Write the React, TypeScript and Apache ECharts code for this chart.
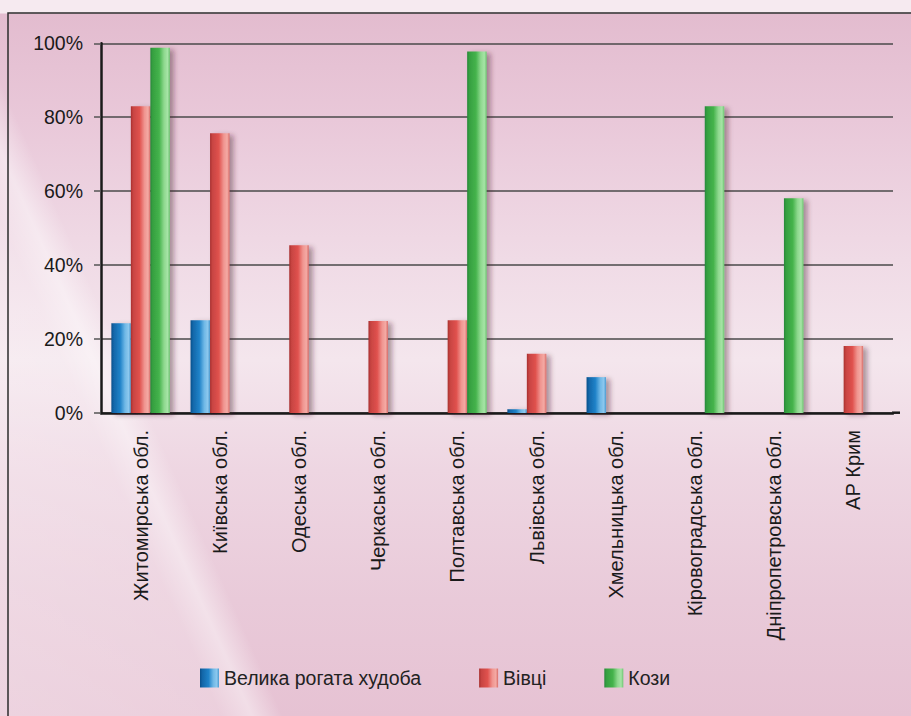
import React, { useEffect, useRef } from "react";
import * as echarts from "echarts";

const categories = [
  "Житомирська обл.",
  "Київська обл.",
  "Одеська обл.",
  "Черкаська обл.",
  "Полтавська обл.",
  "Львівська обл.",
  "Хмельницька обл.",
  "Кіровоградська обл.",
  "Дніпропетровська обл.",
  "АР Крим",
];
const seriesNames = ["Велика рогата худоба", "Вівці", "Кози"];
const cattle = [24.3, 25.1, null, null, null, 1, 9.7, null, null, null];
const sheep = [83, 75.7, 45.4, 24.9, 25.1, 16, null, null, null, 18.1];
const goats = [98.8, null, null, null, 97.8, null, null, 83, 58.1, null];

function cyl(stops: string[]) {
  const pos = [0, 0.12, 0.45, 0.7, 0.88, 1];
  return new echarts.graphic.LinearGradient(
    0,
    0,
    1,
    0,
    stops.map((c, i) => ({ offset: pos[i], color: c }))
  );
}

export default function App() {
  const ref = useRef<HTMLDivElement>(null);
  useEffect(() => {
    if (!ref.current) return;
    const chart = echarts.init(ref.current, undefined, { renderer: "svg" });
    const font = "'Liberation Sans', Arial, sans-serif";
    const blue = cyl(["#0a4f8a", "#1266a8", "#1f82c8", "#6fb8e6", "#8cc8ee", "#4a9ad0"]);
    const red = cyl(["#a8302e", "#c84442", "#e0524e", "#f09590", "#f4aaa4", "#d86a66"]);
    const green = cyl(["#27883a", "#35a040", "#45b34c", "#8ed88e", "#a6e4a6", "#6cc470"]);
    const shadow = {
      shadowBlur: 5,
      shadowOffsetX: 4,
      shadowOffsetY: 2,
      shadowColor: "rgba(60,20,40,0.4)",
    };
    const mk = (name: string, data: (number | null)[], color: any) => ({
      name,
      type: "bar",
      data: data.map((v) => (v === null ? "-" : v)),
      barWidth: 19.5,
      barGap: "0%",
      itemStyle: { color, ...shadow },
    });
    chart.setOption({
      animation: false,
      textStyle: { fontFamily: font },
      grid: { left: 101, right: 18, top: 43.3, bottom: 303 },
      graphic: [
        {
          type: "rect",
          z: -10,
          silent: true,
          shape: { x: 8, y: 13, width: 940, height: 740 },
          style: { fill: "none", stroke: "#2c2c2c", lineWidth: 1.5 },
        },
        {
          type: "line",
          silent: true,
          shape: { x1: 892, y1: 412.7, x2: 900, y2: 412.7 },
          style: { stroke: "#1a1a1a", lineWidth: 2.5 },
        },
      ],
      legend: {
        left: 195,
        top: 663,
        itemWidth: 19,
        itemHeight: 19,
        itemGap: 58,
        icon: "rect",
        textStyle: { fontSize: 19.5, color: "#222", fontFamily: font },
        data: seriesNames,
      },
      xAxis: {
        type: "category",
        data: categories,
        axisLine: { lineStyle: { color: "#1a1a1a", width: 2.5 } },
        axisTick: { length: 8, lineStyle: { color: "#666", width: 1.5 } },
        axisLabel: {
          rotate: 90,
          fontSize: 20,
          color: "#1a1a1a",
          margin: 17,
          interval: 0,
          fontFamily: font,
        },
      },
      yAxis: {
        type: "value",
        min: 0,
        max: 100,
        interval: 20,
        axisLine: { show: true, lineStyle: { color: "#1a1a1a", width: 2.5 } },
        axisTick: { show: true, length: 7, lineStyle: { color: "#555", width: 1.5 } },
        axisLabel: {
          formatter: "{value}%",
          fontSize: 19.5,
          color: "#1a1a1a",
          margin: 18,
          padding: [6, 0, 0, 0],
          fontFamily: font,
        },
        splitLine: { lineStyle: { color: "#4a4a4a", width: 1.5 } },
      },
      series: [mk(seriesNames[0], cattle, blue), mk(seriesNames[1], sheep, red), mk(seriesNames[2], goats, green)],
    });
    return () => chart.dispose();
  }, []);
  return (
    <div
      style={{
        position: "fixed",
        left: 0,
        top: 0,
        width: 911,
        height: 716,
        background:
          "linear-gradient(66deg, rgba(255,255,255,0.28) 0%, rgba(255,255,255,0.22) 18%, rgba(255,255,255,0.45) 20.5%, rgba(255,255,255,0) 23%), linear-gradient(180deg, #f6eaf0 0px, #f6eaf0 13px, #e3bccf 14px, #e9c8d9 120px, #f0dbe6 260px, #f4e6ed 360px, #eed6e2 470px, #e9cad9 600px, #e6c2d3 716px)",
      }}
    >
      <div ref={ref} style={{ width: 911, height: 716 }} />
    </div>
  );
}
